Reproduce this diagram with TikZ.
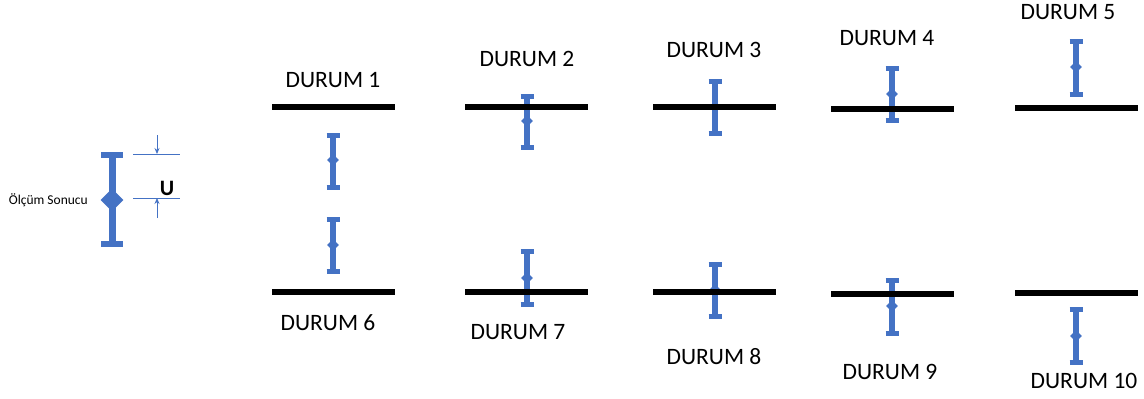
\documentclass[tikz,border=0pt]{standalone}
\usepackage{fontspec}
\setmainfont{Carlito}
\usetikzlibrary{arrows.meta, shapes.geometric}
\definecolor{barblue}{RGB}{68,114,196}

\begin{document}
\begin{tikzpicture}[x=1pt,y=-1pt]
  \tikzstyle{refline}=[line width=5.5pt, black]
  \tikzstyle{bar}=[line width=6pt, barblue]
  \tikzstyle{endcap}=[line width=5pt, barblue]
  \tikzstyle{mid}=[diamond, fill=barblue, inner sep=0pt, minimum size=12pt]
  \tikzstyle{durum}=[font=\fontsize{23.5}{27}\selectfont, inner sep=0pt]
  \tikzstyle{dim}=[line width=0.8pt, barblue]
  \useasboundingbox (0,0) rectangle (1144,399);

  % legend
  \draw[line width=7pt, barblue] (112,155) -- (112,244);
  \draw[line width=6pt, barblue] (101,155) -- (123,155);
  \draw[line width=6pt, barblue] (101,244) -- (123,244);
  \node[mid, minimum size=23pt] (res) at (112,200) {};
  \node[anchor=east, inner sep=0pt, font=\fontsize{13.5}{15}\selectfont] (res label) at (88,200) {Ölçüm Sonucu};

  \coordinate (u top left) at (133,154);
  \coordinate (u top right) at (180,154);
  \coordinate (u bot left) at (133,198);
  \coordinate (u bot right) at (180,198);
  \coordinate (u top arr) at (157,135);
  \coordinate (u bot arr) at (157,218);
  \draw[dim] (u top left) -- (u top right);
  \draw[dim] (u bot left) -- (u bot right);
  \draw[dim, -{Stealth[length=6pt, width=5pt]}] (u top arr) -- (157,154);
  \draw[dim, -{Stealth[length=6pt, width=5pt]}] (u bot arr) -- (157,198);
  \node[font=\fontsize{22}{26}\selectfont\bfseries, inner sep=0pt] (u) at (167,188) {U};

  % error bars: x / top / bottom / middle
  \foreach \x/\t/\b/\m in {333/135/187/160, 333/219/271/245,
                           527/96/147/121, 527/251/304/278,
                           715/81/133/107, 715/264/316/290,
                           892/68/120/94, 892/280/333/306,
                           1076/41/94/67, 1076/309/362/336} {
    \draw[bar] (\x,\t) -- (\x,\b);
    \draw[endcap] (\x-6.5,\t) -- (\x+6.5,\t);
    \draw[endcap] (\x-6.5,\b) -- (\x+6.5,\b);
    \node[mid] at (\x,\m) {};
  }

  % reference lines
  \foreach \x/\y in {272/107, 272/292, 465/107, 465/292, 653/107,
                     653/292, 831/109, 831/294, 1015/108, 1015/293}
    \draw[refline] (\x,\y) -- ++(123,0);

  \node[durum] (d1)  at (333,80)  {DURUM 1};
  \node[durum] (d2)  at (527,59)  {DURUM 2};
  \node[durum] (d3)  at (714,50)  {DURUM 3};
  \node[durum] (d4)  at (887,38)  {DURUM 4};
  \node[durum] (d5)  at (1068,12) {DURUM 5};
  \node[durum] (d6)  at (328,323) {DURUM 6};
  \node[durum] (d7)  at (518,332) {DURUM 7};
  \node[durum] (d8)  at (714,357) {DURUM 8};
  \node[durum] (d9)  at (890,372) {DURUM 9};
  \node[durum] (d10) at (1084,381) {DURUM 10};
\end{tikzpicture}
\end{document}
